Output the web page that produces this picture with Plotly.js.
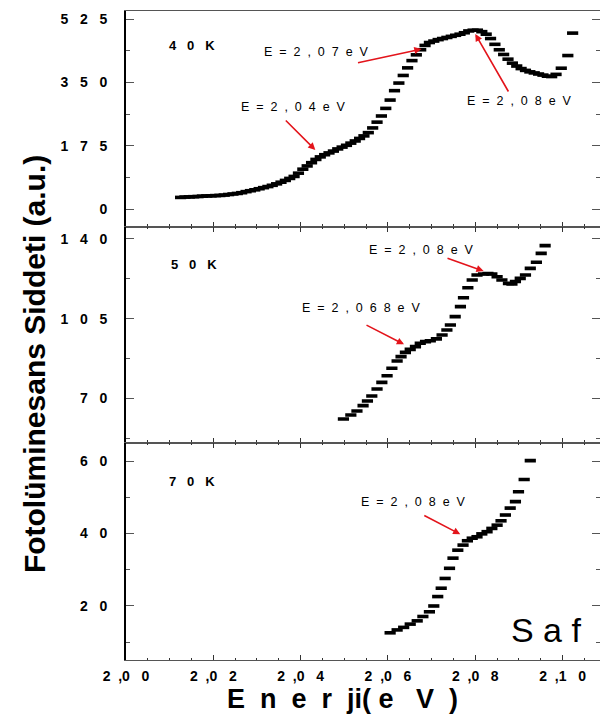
<!DOCTYPE html>
<html>
<head>
<meta charset="utf-8">
<script src="https://cdn.plot.ly/plotly-3.0.1.min.js"></script>
<style>
  html, body { margin: 0; padding: 0; background: #fff; }
  #chart { width: 600px; height: 721px; }
</style>
</head>
<body>
<div id="chart"></div>
<script>
// Photoluminescence spectra of the pure ("Saf") sample at three temperatures.

// 40 K
const energy40 = [
  2.0125, 2.0135, 2.0145, 2.0155, 2.0165, 2.0175, 2.0185, 2.0195, 2.0205, 2.0215,
  2.0225, 2.0235, 2.0245, 2.0255, 2.0265, 2.0275, 2.0285, 2.0295, 2.0305, 2.0315,
  2.0325, 2.0335, 2.0345, 2.0355, 2.0365, 2.0375, 2.0385, 2.0395, 2.0405, 2.0415,
  2.0425, 2.0435, 2.0445, 2.0455, 2.0465, 2.0475, 2.0485, 2.0495, 2.0505, 2.0515,
  2.0525, 2.0535, 2.0545, 2.0555, 2.0565, 2.0575, 2.0585, 2.0595, 2.0605, 2.0615,
  2.0625, 2.0635, 2.0645, 2.0655, 2.0665, 2.0675, 2.0685, 2.0695, 2.0705, 2.0715,
  2.0725, 2.0735, 2.0745, 2.0755, 2.0765, 2.0775, 2.0785, 2.0795, 2.0805, 2.0815,
  2.0825, 2.0835, 2.0845, 2.0855, 2.0865, 2.0875, 2.0885, 2.0895, 2.0905, 2.0915,
  2.0925, 2.0935, 2.0945, 2.0955, 2.0965, 2.0975, 2.0985, 2.0997, 2.1012, 2.1023
];
const intensity40 = [
  32, 33, 33.5, 34, 34.5, 35.5, 36, 36.5, 37, 37.5,
  38.5, 40, 41.5, 43, 45, 48, 50.5, 53, 56, 59,
  62, 65.5, 69.5, 74, 79, 84.5, 90, 99, 110, 119,
  128, 137, 144, 150, 155, 160, 166, 171, 176, 182,
  188, 195, 202, 211, 224, 240, 257, 278, 301, 327,
  348, 369, 390, 410, 426, 440, 452, 460, 464, 468,
  471, 474, 477, 480, 483, 487, 492, 494, 494, 490,
  483, 471, 455, 440, 427, 414, 403, 395, 388, 383,
  379, 376, 373, 370, 367, 366, 372, 389, 424, 486
];

// 50 K
const energy50 = [
  2.0498, 2.0515, 2.0529, 2.0543, 2.0553, 2.0563, 2.0575, 2.0586, 2.0598, 2.0609,
  2.0621, 2.0630, 2.0640, 2.0651, 2.0663, 2.0674, 2.0686, 2.0697, 2.0711, 2.0724,
  2.0735, 2.0743, 2.0754, 2.0766, 2.0773, 2.0783, 2.0793, 2.0804, 2.0819, 2.0829,
  2.0838, 2.0850, 2.0861, 2.0876, 2.0884, 2.0892, 2.0903, 2.0915, 2.0926, 2.0940,
  2.0951, 2.0960
];
const intensity50 = [
  60.9, 62.7, 64.4, 66.8, 68.8, 71.0, 74.1, 77.0, 79.9, 83.2,
  86.4, 88.3, 90.2, 91.5, 92.7, 94.2, 94.9, 95.3, 96.1, 97.8,
  100.0, 102.2, 105.9, 110.3, 114.2, 118.6, 122.0, 124.2, 124.6, 124.8,
  124.6, 123.4, 122.0, 120.5, 120.2, 121.3, 122.7, 124.2, 127.1, 129.8,
  133.7, 137.1
];

// 70 K
const energy70 = [
  2.0605, 2.0621, 2.0636, 2.0651, 2.0667, 2.0680, 2.0695, 2.0705, 2.0714, 2.0722,
  2.0731, 2.0741, 2.0749, 2.0760, 2.0772, 2.0782, 2.0793, 2.0804, 2.0815, 2.0827,
  2.0838, 2.0850, 2.0859, 2.0869, 2.0880, 2.0892, 2.0899, 2.0912, 2.0926
];
const intensity70 = [
  12.6, 13.4, 14.1, 15.0, 15.9, 17.1, 18.4, 20.0, 22.6, 24.9,
  27.6, 30.4, 33.2, 35.4, 36.8, 38.0, 38.7, 39.1, 39.9, 40.5,
  41.4, 42.3, 43.5, 45.1, 47.0, 48.8, 51.5, 54.9, 60.1
];

// Axis ticks
const energyTicks = [2.00, 2.02, 2.04, 2.06, 2.08, 2.10];
const energyTickLabels = ['2,00', '2,02', '2,04', '2,06', '2,08', '2,10'];
const ticks40 = [0, 175, 350, 525];
const ticks50 = [70, 105, 140];
const ticks70 = [20, 40, 60];

const temperatures = ['40K', '50K', '70K'];
const sampleName = 'Saf';

const NB = '\u00a0';
const spaced = (s, n) => s.split('').join(NB.repeat(n));
// "2,00" -> "2  ,0   0" (comma hugs the first decimal)
const energyLabel = t => t[0] + NB + NB + t[1] + t[2] + NB + NB + NB + t[3];

const FONT = 'Arial, "Liberation Sans", sans-serif';

const markerStyle = {
  symbol: 'line-ew', size: 8,
  color: '#000',
  line: { width: 3.6, color: '#000' }
};

function series(x, y, xa, ya) {
  return {
    type: 'scatter', mode: 'markers', x: x, y: y,
    xaxis: xa, yaxis: ya, marker: markerStyle,
    hoverinfo: 'skip', showlegend: false, cliponaxis: true
  };
}

const traces = [
  series(energy40, intensity40, 'x', 'y'),
  series(energy50, intensity50, 'x2', 'y2'),
  series(energy70, intensity70, 'x3', 'y3')
];

const xRange = [2.0, 2.10857];

function xAxis(mirror, showLabels) {
  return {
    range: xRange, showgrid: false, zeroline: false,
    showline: true, linecolor: '#555', linewidth: 1, mirror: mirror,
    ticks: 'inside', ticklen: 5, tickwidth: 1, tickcolor: '#333',
    tickmode: 'array', tickvals: energyTicks,
    ticktext: energyTickLabels.map(energyLabel),
    showticklabels: showLabels,
    ticklabelstandoff: 3,
    tickfont: { family: FONT, size: 14, color: '#000', weight: 'bold' },
    minor: { dtick: 0.005, tick0: 2.0, ticks: 'inside', ticklen: 2.5, tickcolor: '#333', tickwidth: 1 },
    fixedrange: true
  };
}

function yAxis(domain, range, vals, minorStep) {
  return {
    domain: domain, range: range, showgrid: false, zeroline: false,
    showline: true, linecolor: '#000', linewidth: 2, mirror: 'ticks',
    ticks: 'inside', ticklen: 8, tickwidth: 1, tickcolor: '#555',
    tickmode: 'array', tickvals: vals,
    ticktext: vals.map(v => spaced(String(v), 3)),
    ticklabelstandoff: 14,
    tickfont: { family: FONT, size: 14, color: '#000', weight: 'bold' },
    minor: { dtick: minorStep, tick0: 0, ticks: 'inside', ticklen: 4, tickcolor: '#555', tickwidth: 1 },
    fixedrange: true
  };
}

const RED = '#e3141b';

function note(text, x, y, xref, yref, anchor) {
  return {
    text: text, x: x, y: y, xref: xref, yref: yref, showarrow: false,
    xanchor: anchor || 'center', yanchor: 'middle',
    font: { family: FONT, size: 12.5, color: '#000' }
  };
}
function arrow(x, y, ax, ay, xref, yref) {
  return {
    text: '', x: x, y: y, ax: ax, ay: ay, xref: xref, yref: yref,
    showarrow: true, arrowhead: 2, arrowsize: 0.9, arrowwidth: 1.6,
    arrowcolor: RED, standoff: 0, startstandoff: 0
  };
}
function tempLabel(t, x, y, xref, yref) {
  return {
    text: spaced(t, 3), x: x, y: y, xref: xref, yref: yref, showarrow: false,
    xanchor: 'left', yanchor: 'middle',
    font: { family: FONT, size: 13, color: '#000', weight: 'bold' }
  };
}
const peak = s => spaced(s, 2);

const annotations = [
  // 40 K panel
  tempLabel(temperatures[0], 2.00946, 453, 'x', 'y'),
  note(peak('E=2,07eV'), 2.04359, 434, 'x', 'y'),
  arrow(2.06768, 442, -65, 14, 'x', 'y'),
  note(peak('E=2,04eV'), 2.03832, 282, 'x', 'y'),
  arrow(2.04336, 163, -31, -31, 'x', 'y'),
  note(peak('E=2,08eV'), 2.0902, 298, 'x', 'y'),
  arrow(2.08, 483.6, 34, 59, 'x', 'y'),

  // 50 K panel
  tempLabel(temperatures[1], 2.00991, 129, 'x2', 'y2'),
  note(peak('E=2,08eV'), 2.06775, 135.2, 'x2', 'y2'),
  arrow(2.08191, 125.9, -37.6, -13.3, 'x2', 'y2'),
  note(peak('E=2,068eV'), 2.0539, 109.7, 'x2', 'y2'),
  arrow(2.06368, 93.7, -39, -20, 'x2', 'y2'),

  // 70 K panel
  tempLabel(temperatures[2], 2.00946, 54.3, 'x3', 'y3'),
  note(peak('E=2,08eV'), 2.06592, 48.7, 'x3', 'y3'),
  arrow(2.07657, 39.8, -37.5, -19.5, 'x3', 'y3'),
  {
    text: spaced(sampleName, 1), x: 2.09627, y: 13.4, xref: 'x3', yref: 'y3',
    showarrow: false, xanchor: 'center', yanchor: 'middle',
    font: { family: FONT, size: 34, color: '#000' }
  },

  // axis titles
  {
    text: 'E' + NB + NB + 'n' + NB + NB + 'e' + NB + NB + 'r' + NB + NB + 'ji(' + NB + 'e' + NB + NB + NB + 'V' + NB + NB + ')',
    xref: 'paper', yref: 'paper', x: 0.456, y: -0.0600,
    xanchor: 'center', yanchor: 'middle', showarrow: false,
    font: { family: FONT, size: 27, color: '#000', weight: 'bold' }
  },
  {
    text: 'Fotolüminesans Siddeti (a.u.)',
    xref: 'paper', yref: 'paper', x: -0.194, y: 0.456, textangle: -90,
    xanchor: 'center', yanchor: 'middle', showarrow: false,
    font: { family: FONT, size: 30, color: '#000', weight: 'bold' }
  }
];

const layout = {
  width: 600, height: 721,
  margin: { l: 126, r: 0, t: 11, b: 61 },
  paper_bgcolor: '#fff', plot_bgcolor: '#fff',
  showlegend: false,
  xaxis: Object.assign(xAxis(true, false), { anchor: 'y' }),
  xaxis2: Object.assign(xAxis('ticks', false), { anchor: 'y2', matches: 'x' }),
  xaxis3: Object.assign(xAxis('ticks', true), { anchor: 'y3', matches: 'x' }),
  yaxis: Object.assign(yAxis([0.6672, 1], [-49.7, 547.1], ticks40, 87.5), { anchor: 'x' }),
  yaxis2: Object.assign(yAxis([0.3351, 0.6672], [50.58, 145.27], ticks50, 17.5), { anchor: 'x2' }),
  yaxis3: Object.assign(yAxis([0, 0.3351], [5.1, 65.1], ticks70, 10), { anchor: 'x3' }),
  annotations: annotations
};

Plotly.newPlot('chart', traces, layout, { displayModeBar: false, staticPlot: true });
</script>
</body>
</html>
